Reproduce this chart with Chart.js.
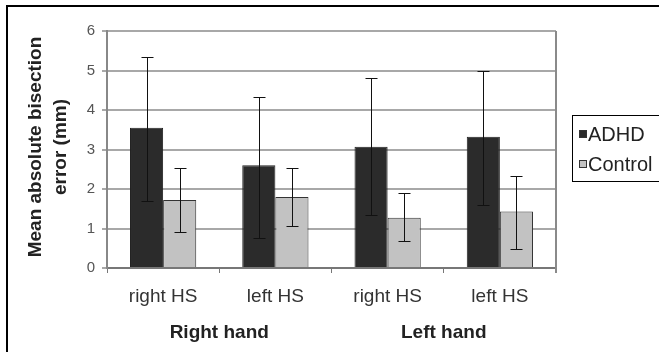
<!DOCTYPE html>
<html>
<head>
<meta charset="utf-8">
<script src="https://cdn.jsdelivr.net/npm/chart.js@4/dist/chart.umd.min.js"></script>
<style>
  html, body { margin: 0; padding: 0; background: #fff; }
  #wrap { width: 659px; height: 352px; position: relative; }
</style>
</head>
<body>
<div id="wrap"><canvas id="chart"></canvas></div>
<script>
const categories = ["right HS", "left HS", "right HS", "left HS"];
const groups = ["Right hand", "Left hand"];
const adhd = [3.55, 2.6, 3.07, 3.32];
const adhdHigh = [5.35, 4.32, 4.82, 5.0];
const adhdLow = [1.7, 0.75, 1.33, 1.6];
const control = [1.72, 1.8, 1.27, 1.43];
const controlHigh = [2.53, 2.52, 1.9, 2.34];
const controlLow = [0.9, 1.07, 0.68, 0.49];
const yTitle = ["Mean absolute bisection", "error (mm)"];

const FONT = "'Liberation Sans', Arial, sans-serif";

const errorBars = {
  id: "errorBars",
  afterDatasetsDraw(chart) {
    const ctx = chart.ctx;
    const y = chart.scales.y;
    ctx.save();
    ctx.strokeStyle = "#111";
    ctx.lineWidth = 1;
    chart.data.datasets.forEach((ds, i) => {
      const meta = chart.getDatasetMeta(i);
      meta.data.forEach((bar, j) => {
        const x = Math.round(bar.x) + 0.5;
        const top = Math.round(y.getPixelForValue(ds.high[j])) + 0.5;
        const bot = Math.round(y.getPixelForValue(ds.low[j])) + 0.5;
        ctx.beginPath();
        ctx.moveTo(x, top); ctx.lineTo(x, bot);
        ctx.moveTo(x - 6, top); ctx.lineTo(x + 6, top);
        ctx.moveTo(x - 6, bot); ctx.lineTo(x + 6, bot);
        ctx.stroke();
      });
    });
    ctx.restore();
  }
};

const decorations = {
  id: "decorations",
  beforeDatasetsDraw(chart) {
    const ctx = chart.ctx;
    const a = chart.chartArea;
    ctx.save();
    ctx.strokeStyle = "#8a8a8a";
    ctx.lineWidth = 2;
    ctx.beginPath();
    ctx.moveTo(a.right, a.top); ctx.lineTo(a.right, a.bottom + 5);
    ctx.stroke();
    ctx.restore();
  },
  afterDraw(chart) {
    const ctx = chart.ctx;
    const a = chart.chartArea;
    const x = chart.scales.x;
    ctx.save();
    // outer frame
    ctx.strokeStyle = "#000";
    ctx.lineWidth = 2;
    ctx.beginPath();
    ctx.moveTo(7, 352); ctx.lineTo(7, 6); ctx.lineTo(659, 6);
    ctx.stroke();

    // y title
    ctx.fillStyle = "#222";
    ctx.font = "bold 19px " + FONT;
    ctx.textAlign = "center";
    ctx.textBaseline = "middle";
    yTitle.forEach((t, i) => {
      ctx.save();
      ctx.translate(36 + i * 25, 147);
      ctx.rotate(-Math.PI / 2);
      ctx.fillText(t, 0, 0);
      ctx.restore();
    });

    // group labels
    ctx.font = "bold 19px " + FONT;
    groups.forEach((g, i) => {
      const cx = (x.getPixelForValue(i * 2) + x.getPixelForValue(i * 2 + 1)) / 2;
      ctx.fillText(g, cx, 333);
    });

    // legend
    ctx.strokeStyle = "#000";
    ctx.lineWidth = 1;
    ctx.strokeRect(572.5, 115.5, 95, 66);
    ctx.font = "20px " + FONT;
    ctx.textAlign = "left";
    chart.data.datasets.forEach((ds, i) => {
      const yy = 134 + i * 30;
      ctx.fillStyle = ds.backgroundColor;
      ctx.fillRect(579, yy - 4, 8, 8);
      ctx.strokeStyle = "#333";
      ctx.strokeRect(579.5, yy - 3.5, 7, 7);
      ctx.fillStyle = "#222";
      ctx.fillText(ds.label, 588, yy + 1);
    });
    ctx.restore();
  }
};

new Chart(document.getElementById("chart"), {
  type: "bar",
  data: {
    labels: categories,
    datasets: [
      { label: "ADHD", data: adhd, high: adhdHigh, low: adhdLow,
        backgroundColor: "#2b2b2b", borderColor: "#222", borderWidth: 1 },
      { label: "Control", data: control, high: controlHigh, low: controlLow,
        backgroundColor: "#c2c2c2", borderColor: "#333", borderWidth: 1 }
    ]
  },
  options: {
    responsive: true,
    maintainAspectRatio: false,
    animation: false,
    layout: { padding: { left: 7, right: 103, top: 31, bottom: 0 } },
    datasets: { bar: { categoryPercentage: 0.59, barPercentage: 1 } },
    plugins: { legend: { display: false }, tooltip: { enabled: false } },
    scales: {
      x: {
        afterFit: s => { s.height = 84; },
        grid: { offset: true, drawOnChartArea: false, tickLength: 5, color: "#777", lineWidth: 1 },
        border: { color: "#777", width: 2 },
        ticks: { padding: 12, color: "#333", font: { size: 19, family: FONT } }
      },
      y: {
        min: 0, max: 6,
        afterFit: s => { s.width = 100; },
        grid: { color: "#a8a8a8", lineWidth: 2, tickLength: 5 },
        border: { color: "#888", width: 2 },
        ticks: { stepSize: 1, padding: 7, color: "#555", font: { size: 15, family: FONT } }
      }
    }
  },
  plugins: [decorations, errorBars]
});
</script>
</body>
</html>
